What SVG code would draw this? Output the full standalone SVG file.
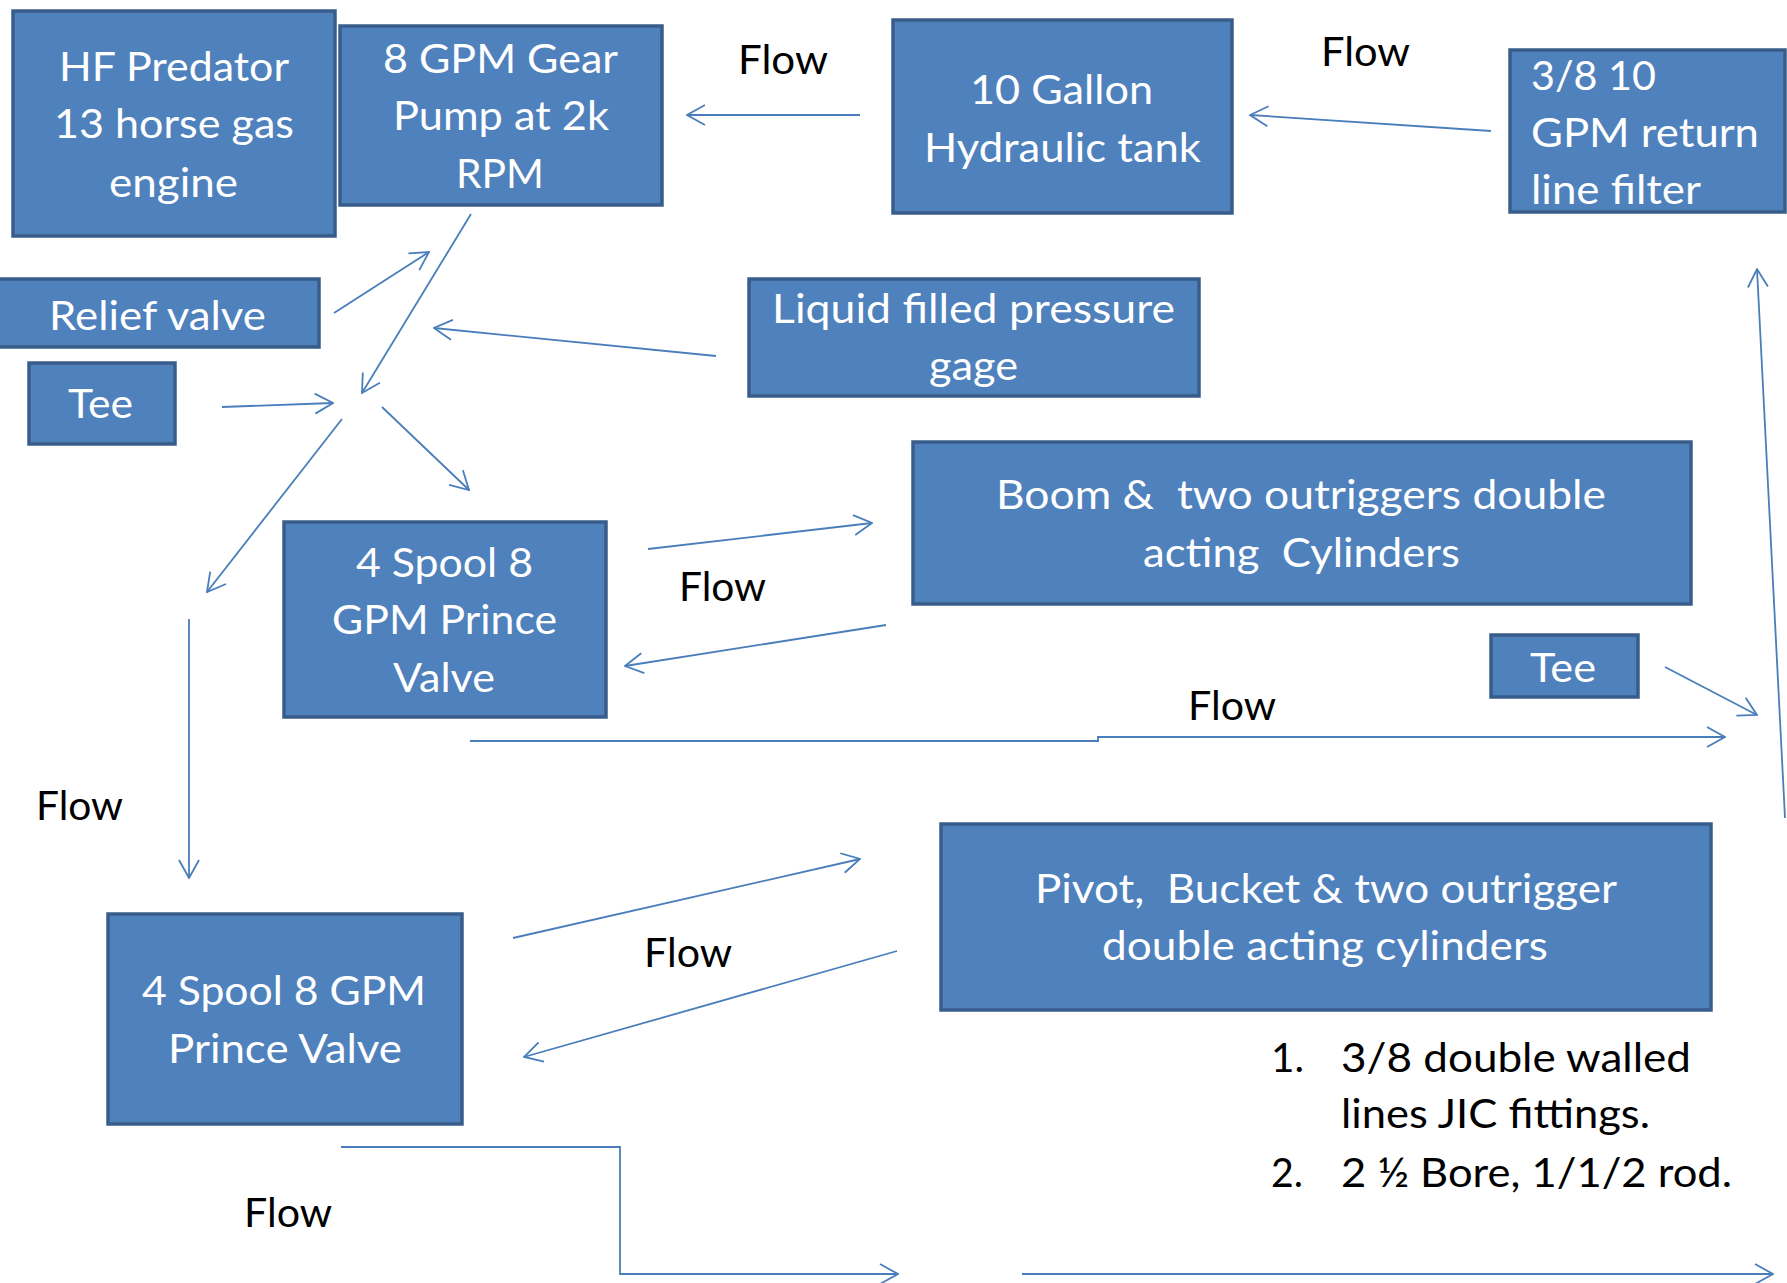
<svg xmlns="http://www.w3.org/2000/svg" width="1787" height="1283" viewBox="0 0 1787 1283">
<style>
.box{fill:#4F81BD;stroke:#385D8A;stroke-width:3.5}
.bt{font-family:Lato,"Liberation Sans",sans-serif;font-size:41px;fill:#ffffff;text-anchor:middle;white-space:pre}
.bl{font-family:Lato,"Liberation Sans",sans-serif;font-size:41px;fill:#ffffff;white-space:pre}
.lb{font-family:Lato,"Liberation Sans",sans-serif;font-size:41px;fill:#000000;white-space:pre}
.c{fill:none;stroke:#4A7EBB;stroke-width:1.8}
</style>
<defs>
<marker id="ah" markerUnits="userSpaceOnUse" viewBox="0 0 20 22" markerWidth="20" markerHeight="22" refX="19" refY="11" orient="auto">
<path d="M1,1 L19,11 L1,21" fill="none" stroke="#4A7EBB" stroke-width="1.8"/>
</marker>
</defs>
<rect width="1787" height="1283" fill="#ffffff"/>
<g id="connectors">
<path class="c" d="M860,115 L687,115" marker-end="url(#ah)"/>
<path class="c" d="M1491,131 L1250,115" marker-end="url(#ah)"/>
<path class="c" d="M1785,818 L1757,269" marker-end="url(#ah)"/>
<path class="c" d="M716,356 L434,328" marker-end="url(#ah)"/>
<path class="c" d="M471,214 L362,393" marker-end="url(#ah)"/>
<path class="c" d="M334,313 L429,252" marker-end="url(#ah)"/>
<path class="c" d="M222,407 L333,403" marker-end="url(#ah)"/>
<path class="c" d="M342,419 L207,592" marker-end="url(#ah)"/>
<path class="c" d="M382,407 L469,490" marker-end="url(#ah)"/>
<path class="c" d="M648,549 L872,523" marker-end="url(#ah)"/>
<path class="c" d="M886,625 L625,666" marker-end="url(#ah)"/>
<path class="c" d="M189,619 L189,878" marker-end="url(#ah)"/>
<path class="c" d="M470,741 L1098,741 L1098,737 L1725,737" marker-end="url(#ah)"/>
<path class="c" d="M1665,667 L1757,715" marker-end="url(#ah)"/>
<path class="c" d="M513,938 L860,859" marker-end="url(#ah)"/>
<path class="c" d="M897,951 L524,1057" marker-end="url(#ah)"/>
<path class="c" d="M341,1147 L620,1147 L620,1274 L898,1274" marker-end="url(#ah)"/>
<path class="c" d="M1022,1274 L1773,1274" marker-end="url(#ah)"/>
</g>
<g id="engine">
<rect class="box" x="13" y="11" width="322" height="225"/>
<text class="bt" x="174" y="81" textLength="230" lengthAdjust="spacingAndGlyphs">HF Predator</text>
<text class="bt" x="174" y="138" textLength="240" lengthAdjust="spacingAndGlyphs">13 horse gas</text>
<text class="bt" x="173.5" y="197" textLength="129" lengthAdjust="spacingAndGlyphs">engine</text>
</g>
<g id="pump">
<rect class="box" x="340" y="26" width="322" height="179"/>
<text class="bt" x="500.5" y="73" textLength="235" lengthAdjust="spacingAndGlyphs">8 GPM Gear</text>
<text class="bt" x="501" y="130" textLength="216" lengthAdjust="spacingAndGlyphs">Pump at 2k</text>
<text class="bt" x="500" y="188" textLength="88" lengthAdjust="spacingAndGlyphs">RPM</text>
</g>
<g id="tank">
<rect class="box" x="893" y="20" width="339" height="193"/>
<text class="bt" x="1061.5" y="104" textLength="183" lengthAdjust="spacingAndGlyphs">10 Gallon</text>
<text class="bt" x="1062.5" y="162" textLength="277" lengthAdjust="spacingAndGlyphs">Hydraulic tank</text>
</g>
<g id="filter">
<rect class="box" x="1510" y="50" width="275" height="162"/>
<text class="bl" x="1531" y="90" textLength="125" lengthAdjust="spacingAndGlyphs">3/8 10</text>
<text class="bl" x="1531" y="147" textLength="228" lengthAdjust="spacingAndGlyphs">GPM return</text>
<text class="bl" x="1531" y="204" textLength="170" lengthAdjust="spacingAndGlyphs">line filter</text>
</g>
<g id="relief">
<rect class="box" x="-2" y="279" width="321" height="68"/>
<text class="bt" x="157.5" y="330" textLength="217" lengthAdjust="spacingAndGlyphs">Relief valve</text>
</g>
<g id="tee1">
<rect class="box" x="29" y="363" width="146" height="81"/>
<text class="bt" x="100.5" y="418" textLength="65" lengthAdjust="spacingAndGlyphs">Tee</text>
</g>
<g id="gage">
<rect class="box" x="749" y="279" width="450" height="117"/>
<text class="bt" x="973.5" y="323" textLength="403" lengthAdjust="spacingAndGlyphs">Liquid filled pressure</text>
<text class="bt" x="973.5" y="380" textLength="89" lengthAdjust="spacingAndGlyphs">gage</text>
</g>
<g id="spool1">
<rect class="box" x="284" y="522" width="322" height="195"/>
<text class="bt" x="444.5" y="577" textLength="177" lengthAdjust="spacingAndGlyphs">4 Spool 8</text>
<text class="bt" x="444.5" y="634" textLength="225" lengthAdjust="spacingAndGlyphs">GPM Prince</text>
<text class="bt" x="444" y="692" textLength="102" lengthAdjust="spacingAndGlyphs">Valve</text>
</g>
<g id="boom">
<rect class="box" x="913" y="442" width="778" height="162"/>
<text class="bt" x="1301" y="509" textLength="610" lengthAdjust="spacingAndGlyphs">Boom &amp;  two outriggers double</text>
<text class="bt" x="1301.5" y="567" textLength="317" lengthAdjust="spacingAndGlyphs">acting  Cylinders</text>
</g>
<g id="tee2">
<rect class="box" x="1491" y="635" width="147" height="62"/>
<text class="bt" x="1563" y="682" textLength="66" lengthAdjust="spacingAndGlyphs">Tee</text>
</g>
<g id="spool2">
<rect class="box" x="108" y="914" width="354" height="210"/>
<text class="bt" x="284" y="1005" textLength="284" lengthAdjust="spacingAndGlyphs">4 Spool 8 GPM</text>
<text class="bt" x="285" y="1063" textLength="234" lengthAdjust="spacingAndGlyphs">Prince Valve</text>
</g>
<g id="pivot">
<rect class="box" x="941" y="824" width="770" height="186"/>
<text class="bt" x="1326" y="903" textLength="582" lengthAdjust="spacingAndGlyphs">Pivot,  Bucket &amp; two outrigger</text>
<text class="bt" x="1325" y="960" textLength="446" lengthAdjust="spacingAndGlyphs">double acting cylinders</text>
</g>
<g id="labels">
<text class="lb" x="738" y="74" textLength="90" lengthAdjust="spacingAndGlyphs">Flow</text>
<text class="lb" x="1321" y="66" textLength="89" lengthAdjust="spacingAndGlyphs">Flow</text>
<text class="lb" x="679" y="601" textLength="87" lengthAdjust="spacingAndGlyphs">Flow</text>
<text class="lb" x="36" y="820" textLength="87" lengthAdjust="spacingAndGlyphs">Flow</text>
<text class="lb" x="1188" y="720" textLength="88" lengthAdjust="spacingAndGlyphs">Flow</text>
<text class="lb" x="644" y="967" textLength="88" lengthAdjust="spacingAndGlyphs">Flow</text>
<text class="lb" x="244" y="1227" textLength="88" lengthAdjust="spacingAndGlyphs">Flow</text>
</g>
<g id="notes">
<text class="lb" x="1271" y="1072" textLength="33" lengthAdjust="spacingAndGlyphs">1.</text>
<text class="lb" x="1341" y="1072" textLength="350" lengthAdjust="spacingAndGlyphs">3/8 double walled</text>
<text class="lb" x="1341" y="1128" textLength="309" lengthAdjust="spacingAndGlyphs">lines JIC fittings.</text>
<text class="lb" x="1271" y="1187" textLength="32" lengthAdjust="spacingAndGlyphs">2.</text>
<text class="lb" x="1341" y="1187" textLength="391" lengthAdjust="spacingAndGlyphs">2 ½ Bore, 1/1/2 rod.</text>
</g>
</svg>
